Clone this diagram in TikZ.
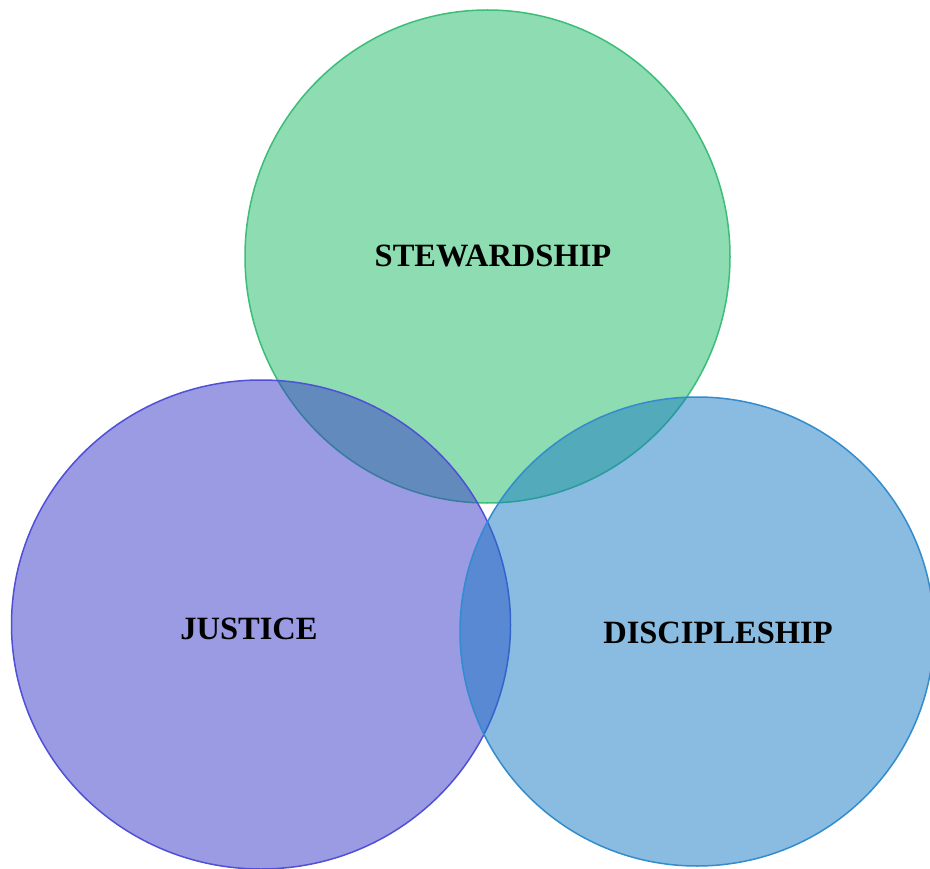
\documentclass[tikz,border=0pt]{standalone}
\usepackage{fontspec}
\setmainfont{Liberation Serif}
\definecolor{gfill}{RGB}{31,187,103}
\definecolor{gline}{RGB}{60,190,120}
\definecolor{pfill}{RGB}{55,57,199}
\definecolor{pline}{RGB}{80,80,215}
\definecolor{bfill}{RGB}{23,121,195}
\definecolor{bline}{RGB}{50,140,205}
\begin{document}
\begin{tikzpicture}[x=1pt,y=-1pt,
  venn/.style={fill opacity=0.5, line width=1.5pt},
  lbl/.style={font=\fontsize{32.5}{38}\selectfont\bfseries, text=black, inner sep=0pt}]
\useasboundingbox (0,0) rectangle (930,869);
\fill[white] (0,0) rectangle (930,869);
\begin{scope}
\clip (0,0) rectangle (930,869);
\draw[venn, fill=gfill, draw=gline] (487.5,256.5) ellipse [x radius=242.5, y radius=246.5];
\draw[venn, fill=pfill, draw=pline] (261,624.5) ellipse [x radius=249.5, y radius=244.5];
\draw[venn, fill=bfill, draw=bline] (697,631.5) ellipse [x radius=237, y radius=234.5];
\end{scope}
\node[lbl] (stew) at (493,256) {STEWARDSHIP};
\node[lbl] (just) at (249,629) {JUSTICE};
\node[lbl] (disc) at (718,633) {DISCIPLESHIP};
\end{tikzpicture}
\end{document}
